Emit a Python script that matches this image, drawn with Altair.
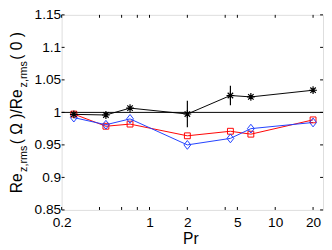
import altair as alt
import pandas as pd

# ---- data ----
pr = [0.25, 0.45, 0.7, 2, 4.4, 6.4, 20]
black = [0.997, 0.996, 1.0066, 0.9975, 1.026, 1.0238, 1.0341]
black_err = [0.002, 0.002, 0.003, 0.0205, 0.015, 0.003, 0.003]
red = [0.9974, 0.9787, 0.982, 0.964, 0.971, 0.9665, 0.9885]
blue = [0.992, 0.981, 0.990, 0.950, 0.960, 0.975, 0.9845]
ref_level = [1.0]

x_label_values = [0.2, 1, 2, 5, 10, 20]
x_tick_values = [0.2, 0.4, 0.6, 0.8, 1, 2, 4, 5, 10, 20]
y_tick_values = [0.85, 0.9, 0.95, 1.0, 1.05, 1.1, 1.15]

df = pd.DataFrame({
    "Pr": pr,
    "black": black,
    "lo": [v - e for v, e in zip(black, black_err)],
    "hi": [v + e for v, e in zip(black, black_err)],
    "red": red,
    "blue": blue,
})
xt = pd.DataFrame({"t": x_tick_values})
yt = pd.DataFrame({"v": y_tick_values})
rl = pd.DataFrame({"r": ref_level})

FONT = "Liberation Sans"
W, H = 268, 200
TL = 3  # inward tick length

xs = alt.Scale(type="log", domain=[0.2, 24], nice=False)
ys = alt.Scale(domain=[0.85, 1.15], nice=False, zero=False)

x_axis = alt.Axis(values=x_label_values, format="~g", ticks=False, domain=False, grid=False,
                  labelFlush=False, labelOverlap=False, labelFontSize=14, labelFont=FONT,
                  labelColor="black", labelPadding=6.5, title="Pr", titleFontSize=16,
                  titleFont=FONT, titleFontWeight="normal", titleColor="black",
                  titleX=132, titleY=34, titleBaseline="alphabetic", titleAlign="center")
y_axis = alt.Axis(values=y_tick_values, format="~g", ticks=False, domain=False, grid=False,
                  labelFlush=False, labelOverlap=False, labelFontSize=14, labelFont=FONT,
                  labelColor="black", labelPadding=1, title=None)


def X(f):
    return alt.X(f"{f}:Q", scale=xs, axis=x_axis)


def Y(f):
    return alt.Y(f"{f}:Q", scale=ys, axis=y_axis)


base = alt.Chart(df)

DIAMOND = "M0,-1L0.78,0L0,1L-0.78,0Z"
STAR = "M0,-1L0,1M-1,0L1,0M-0.7,-0.7L0.7,0.7M-0.7,0.7L0.7,-0.7"

hline = alt.Chart(rl).mark_rule(color="black", strokeWidth=1).encode(y=Y("r"))

red_line = base.mark_line(color="#ff0000", strokeWidth=1).encode(x=X("Pr"), y=Y("red"))
red_pts = base.mark_point(shape="square", size=36, color="#ff0000", filled=False,
                          strokeWidth=1, opacity=1).encode(x=X("Pr"), y=Y("red"))
blue_line = base.mark_line(color="#1f3fff", strokeWidth=1).encode(x=X("Pr"), y=Y("blue"))
blue_pts = base.mark_point(shape=DIAMOND, size=81, color="#1f3fff", filled=False,
                           strokeWidth=1, opacity=1).encode(x=X("Pr"), y=Y("blue"))
black_line = base.mark_line(color="black", strokeWidth=1).encode(x=X("Pr"), y=Y("black"))
black_err_bars = base.mark_rule(color="black", strokeWidth=1.2).encode(
    x=X("Pr"), y=Y("lo"), y2="hi:Q")
black_pts = base.mark_point(shape=STAR, size=64, color="black", filled=False,
                            strokeWidth=1.2, opacity=1).encode(x=X("Pr"), y=Y("black"))

# inward ticks (MATLAB style) on all four sides
xt_bottom = alt.Chart(xt).mark_rule(color="black", strokeWidth=1).encode(
    x=X("t"), y=alt.value(H), y2=alt.value(H - TL))
xt_top = alt.Chart(xt).mark_rule(color="black", strokeWidth=1).encode(
    x=X("t"), y=alt.value(0), y2=alt.value(TL))
yt_left = alt.Chart(yt).mark_rule(color="black", strokeWidth=1).encode(
    y=Y("v"), x=alt.value(0), x2=alt.value(TL))
yt_right = alt.Chart(yt).mark_rule(color="black", strokeWidth=1).encode(
    y=Y("v"), x=alt.value(W), x2=alt.value(W - TL))

# rotated y title with subscripts
one = pd.DataFrame({"a": [0]})
MAIN_X, SUB_X = -40.5, -35.5


def piece(txt, y, size, xpos):
    return alt.Chart(one).mark_text(text=txt, angle=270, align="left", baseline="alphabetic",
                                    font=FONT, fontSize=size, color="black").encode(
        x=alt.value(xpos), y=alt.value(y))


title_layers = [
    piece("Re", 183, 16, MAIN_X),
    piece("z,rms", 161, 11, SUB_X),
    piece("( Ω )/Re", 132.6, 16, MAIN_X),
    piece("z,rms", 74.4, 11, SUB_X),
    piece("( 0 )", 46, 16, MAIN_X),
]

chart = alt.layer(
    hline, red_line, blue_line, red_pts, blue_pts, black_line, black_err_bars, black_pts,
    xt_bottom, xt_top, yt_left, yt_right, *title_layers
).properties(
    width=W, height=H,
    autosize=alt.AutoSizeParams(type="none"),
    padding={"left": 55, "top": 4, "right": 1, "bottom": 36},
).configure_view(stroke="black", strokeWidth=1).configure(background="white")

chart.save("out.html", embed_options={"renderer": "svg", "actions": False})
